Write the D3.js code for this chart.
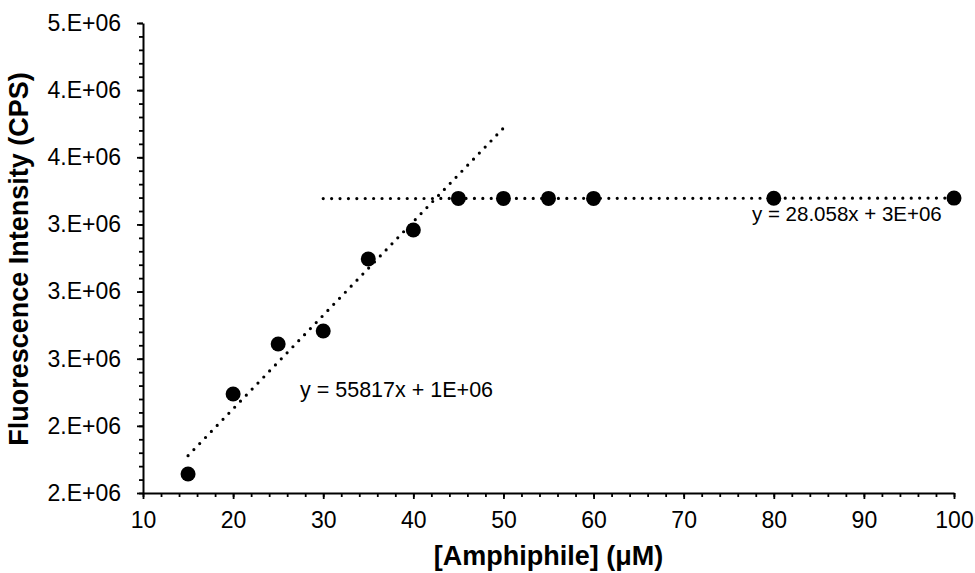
<!DOCTYPE html>
<html><head><meta charset="utf-8">
<script src="https://cdn.jsdelivr.net/npm/d3@7"></script>
<style>body{margin:0;background:#fff}svg{display:block}text{font-family:"Liberation Sans",Arial,sans-serif;fill:#000}</style>
</head><body><svg id="c" width="975" height="573"></svg>
<script>
// Data
const amphiphile = [15, 20, 25, 30, 35, 40, 45, 50, 55, 60, 80, 100];
const intensity = [1.813e6, 2.290e6, 2.588e6, 2.665e6, 3.094e6, 3.267e6, 3.455e6, 3.455e6, 3.455e6, 3.455e6, 3.456e6, 3.457e6];
const xTicks = [10, 20, 30, 40, 50, 60, 70, 80, 90, 100];
const yTickValues = [1.7e6, 2.1e6, 2.5e6, 2.9e6, 3.3e6, 3.7e6, 4.1e6, 4.5e6];
const yTickLabels = ["2.E+06", "2.E+06", "3.E+06", "3.E+06", "3.E+06", "4.E+06", "4.E+06", "5.E+06"];
// Trendline groups: fitted points (indices), drawn x-range, equation label
const trend1Idx = [0, 1, 2, 3, 4, 5];
const trend1Range = [15, 50];
const trend1Label = "y = 55817x + 1E+06";
const trend2Idx = [6, 7, 8, 9, 10, 11];
const trend2Range = [30, 100];
const trend2Label = "y = 28.058x + 3E+06";
const xTitle = "[Amphiphile] (μM)";
const yTitle = "Fluorescence Intensity (CPS)";

const m = {left: 143, right: 954, top: 23, bottom: 493};
const FONT = '"Liberation Sans",Arial,sans-serif';
const svg = d3.select("#c");
const x = d3.scaleLinear().domain([10, 100]).range([m.left, m.right]);
const y = d3.scaleLinear().domain([1.7e6, 4.5e6]).range([m.bottom, m.top]);

function fit(idx) {
  const xs = idx.map(i => amphiphile[i]), ys = idx.map(i => intensity[i]);
  const mx = d3.mean(xs), my = d3.mean(ys);
  const sxy = d3.sum(xs, (v, k) => (v - mx) * (ys[k] - my));
  const sxx = d3.sum(xs, v => (v - mx) ** 2);
  const b = sxy / sxx;
  return {b, a: my - b * mx};
}

// minor ticks
const xMinor = d3.range(10, 100.001, 2);
const yMinor = d3.range(1.7e6, 4.5e6 + 1, 0.08e6);

const gx = svg.append("g").attr("transform", `translate(0,${m.bottom})`);
gx.call(d3.axisBottom(x).tickValues(xMinor).tickSize(4).tickFormat(""));
gx.call(g => g.select(".domain").remove());
const gx2 = svg.append("g").attr("transform", `translate(0,${m.bottom})`)
  .call(d3.axisBottom(x).tickValues(xTicks).tickSize(6).tickSizeOuter(0).tickPadding(13).tickFormat(d3.format("d")));
gx2.selectAll("text").style("font-size", "23px");

const gy = svg.append("g").attr("transform", `translate(${m.left},0)`);
gy.call(d3.axisLeft(y).tickValues(yMinor).tickSize(4).tickFormat(""));
gy.call(g => g.select(".domain").remove());
const gy2 = svg.append("g").attr("transform", `translate(${m.left},0)`)
  .call(d3.axisLeft(y).tickValues(yTickValues).tickSize(6).tickSizeOuter(0).tickPadding(16)
    .tickFormat((d, i) => yTickLabels[i]));
gy2.selectAll("text").style("font-size", "23px");
svg.selectAll(".domain").attr("stroke-width", 2);
svg.selectAll(".tick line").attr("stroke-width", 1.8);
svg.selectAll(".tick text").attr("fill", "#000").style("font-family", FONT);

// trendlines
[[trend1Idx, trend1Range], [trend2Idx, trend2Range]].forEach(([idx, r]) => {
  const f = fit(idx);
  svg.append("line")
    .attr("x1", x(r[0])).attr("y1", y(f.a + f.b * r[0]))
    .attr("x2", x(r[1])).attr("y2", y(f.a + f.b * r[1]))
    .attr("stroke", "#000").attr("stroke-width", 3.2).attr("stroke-linecap", "round")
    .attr("stroke-dasharray", "0,8.4");
});

// points
svg.append("g").selectAll("circle").data(amphiphile).join("circle")
  .attr("cx", d => x(d)).attr("cy", (d, i) => y(intensity[i])).attr("r", 7.5).attr("fill", "#000");

// equation labels
svg.append("text").attr("x", 300).attr("y", 397).style("font-size", "21.5px").text(trend1Label);
svg.append("text").attr("x", 752).attr("y", 221).style("font-size", "20.5px").text(trend2Label);

// titles
svg.append("text").attr("x", (m.left + m.right) / 2).attr("y", 565).attr("text-anchor", "middle")
  .style("font-size", "27px").style("font-weight", "bold").text(xTitle);
svg.append("text").attr("transform", `translate(28,${(m.top + m.bottom) / 2 + 1}) rotate(-90)`)
  .attr("text-anchor", "middle").style("font-size", "27px").style("font-weight", "bold").text(yTitle);
</script></body></html>
